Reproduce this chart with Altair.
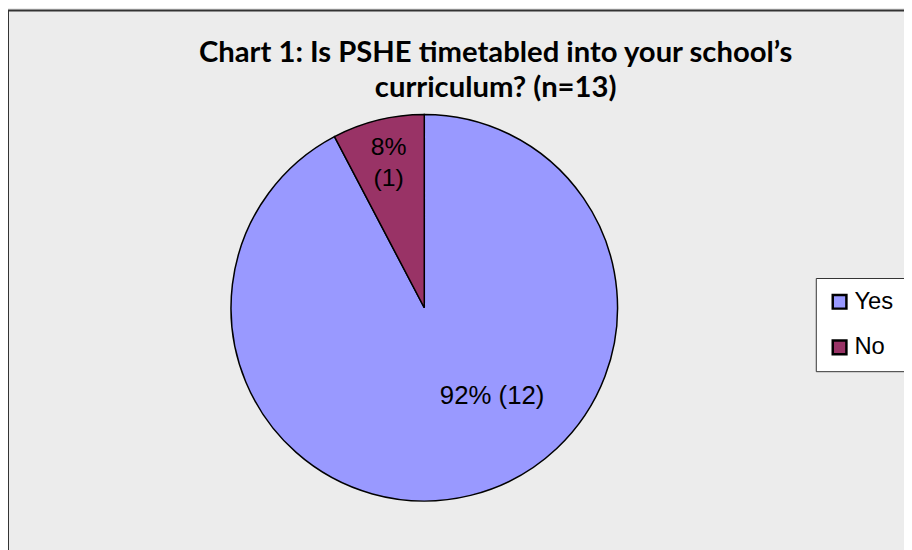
import altair as alt
import pandas as pd

categories = ["Yes", "No"]
counts = [12, 1]
colors = ["#9999ff", "#993366"]
title_lines = ["Chart 1: Is PSHE timetabled into your school\u2019s", "curriculum? (n=13)"]

total = sum(counts)
pcts = [round(c / total * 100) for c in counts]
labels = [f"{pcts[0]}% ({counts[0]})", f"{pcts[1]}%\n({counts[1]})"]

df = pd.DataFrame({
    "category": categories,
    "count": counts,
    "order": list(range(len(categories))),
    "label": labels,
})

W, H = 904, 542
CX, CY, R = 420, 300, 195
LABEL_FONT = "Liberation Sans"

theta_scale = alt.Scale(domain=[0, total], range=[0, 6.283185307179586])

frame = alt.Chart(pd.DataFrame({"a": [0]})).mark_rect(
    fillOpacity=0, stroke="#333333", strokeWidth=2
).encode(x=alt.value(0), x2=alt.value(W + 40), y=alt.value(0), y2=alt.value(H + 40))

arc = alt.Chart(df).mark_arc(radius=R, stroke="black", strokeWidth=1.5).encode(
    theta=alt.Theta("count:Q", stack=True, scale=theta_scale),
    order=alt.Order("order:Q"),
    color=alt.Color(
        "category:N",
        scale=alt.Scale(domain=categories, range=colors),
        legend=alt.Legend(
            title=None, orient="none", legendX=815, legendY=270,
            symbolType="square", symbolSize=190, symbolStrokeColor="black",
            symbolStrokeWidth=2.5, symbolOpacity=1,
            labelFont=LABEL_FONT, labelFontSize=24, labelColor="black",
            labelOffset=3, fillColor="white", strokeColor="#333333",
            padding=12, rowPadding=22, labelLimit=200,
        ),
    ),
    x=alt.value(CX), y=alt.value(CY),
)

base_text = alt.Chart(df).transform_window(
    cum="sum(count)", sort=[alt.SortField("order")]
).transform_calculate(mid="datum.cum - datum.count / 2")


def label_layer(cat, size, radius, dx, dy):
    return base_text.transform_filter(alt.datum.category == cat).mark_text(
        font=LABEL_FONT, fontSize=size, color="black", lineBreak="\n",
        lineHeight=31, baseline="middle", align="center",
        radius=radius, dx=dx, dy=dy,
    ).encode(
        theta=alt.Theta("mid:Q", scale=theta_scale),
        text="label:N",
        x=alt.value(CX), y=alt.value(CY),
    )


yes_lbl = label_layer("Yes", 26, 148, 33, -55)
no_lbl = label_layer("No", 25, 167, 4, 0)

title = alt.Chart(pd.DataFrame({"t": ["\n".join(title_lines)]})).mark_text(
    font="Lato", fontSize=29.5, fontWeight="bold", color="black",
    lineBreak="\n", lineHeight=35, align="center", baseline="alphabetic",
).encode(text="t:N", x=alt.value(492), y=alt.value(52))

chart = alt.layer(frame, arc, yes_lbl, no_lbl, title).properties(
    width=W, height=H, autosize=alt.AutoSizeParams(type="none"), padding=0,
).configure(background="#ececec").configure_view(stroke=None)

chart.save("out.html", embed_options={"renderer": "svg", "actions": False})
